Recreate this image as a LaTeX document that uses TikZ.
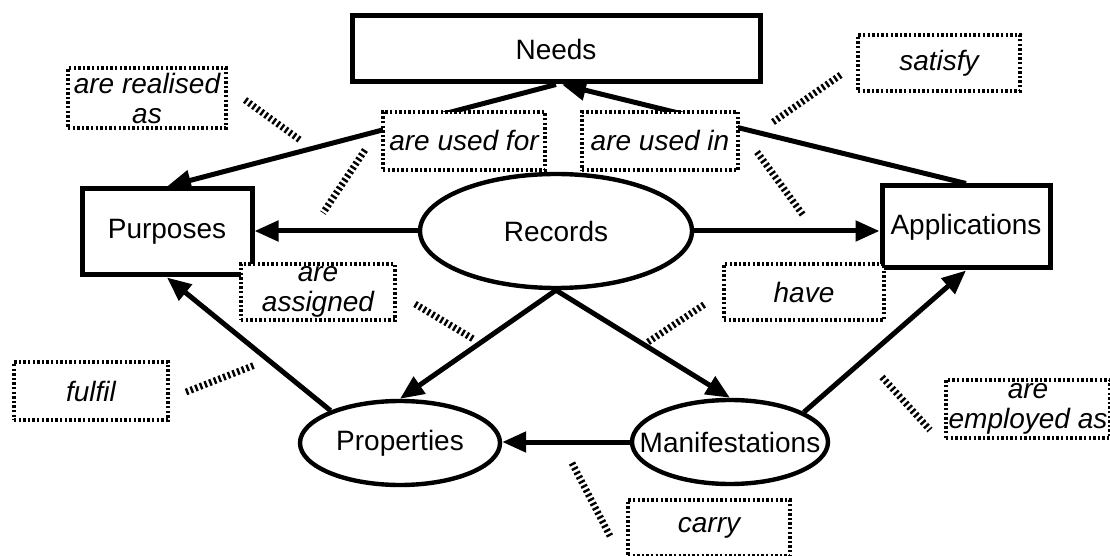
\documentclass[tikz,border=0pt]{standalone}
\usepackage{fontspec}
\setmainfont{Liberation Sans}
\usepackage{tikz}
\usetikzlibrary{shapes.geometric}
\usetikzlibrary{arrows.meta}
\newcommand{\entlinewd}{2.5pt}
\newcommand{\labelfont}{\fontsize{14}{15}\selectfont}
\tikzset{entbox/.style={rectangle, draw, line width=\entlinewd, fill=white, inner sep=0pt}}
\tikzset{entoval/.style={ellipse, draw, line width=2.2pt, fill=white, inner sep=0pt}}
\tikzset{relbox/.style={rectangle, draw, line width=2pt, dash pattern=on 1.2pt off 1.1pt, fill=white, inner sep=0pt, align=center, font=\labelfont\itshape}}
\tikzset{hatchln/.style={line width=3.4pt, dash pattern=on 1.2pt off 1.3pt}}
\tikzset{relarrow/.style={line width=\entlinewd, -{Triangle[length=12pt,width=10pt]}}}

\begin{document}
\begin{tikzpicture}[x=0.5pt,y=-0.5pt,font=\labelfont]

\useasboundingbox (0,0) rectangle (1110,556);

\node[entbox, minimum width=204pt, minimum height=33pt] (needs) at (556,49) {Needs};
\node[entbox, minimum width=85pt, minimum height=43pt] (purposes) at (167,232) {Purposes};
\node[entbox, minimum width=84pt, minimum height=41pt] (applications) at (966,227) {Applications};
\node[entoval, minimum width=136pt, minimum height=57pt] (records) at (556,231) {Records};
\node[entoval, minimum width=100pt, minimum height=42pt] (properties) at (400,443) {Properties};
\node[entoval, minimum width=98pt, minimum height=42pt, inner xsep=-11pt] (manifest) at (730,442) {Manifestations};

\draw[relarrow] (needs.south) -- (purposes.north);
\draw[relarrow] (applications.north) -- ([xshift=3pt]needs.south);
\draw[relarrow] (records.west) -- (records.west -| purposes.east);
\draw[relarrow] (records.east) -- (records.east -| applications.west);
\draw[relarrow] (records.south) -- (properties.north);
\draw[relarrow] (records.south) -- (manifest.north);
\draw[relarrow] (properties.155) -- (purposes.south);
\draw[relarrow] (manifest.west) -- (manifest.west -| properties.east);
\draw[relarrow] (manifest.22) -- (applications.south);

\node[relbox, minimum width=79pt, minimum height=30pt] (realised) at (147,98) {are realised\\as};
\node[relbox, minimum width=81pt, minimum height=28pt] (satisfy) at (939,63) {satisfy};
\node[relbox, minimum width=81pt, minimum height=29pt] (usedfor) at (464,141) {are used for};
\node[relbox, minimum width=78pt, minimum height=29pt] (usedin) at (660,141) {are used in};
\node[relbox, minimum width=77pt, minimum height=28pt] (assigned) at (318,292) {are\\assigned};
\node[relbox, minimum width=80pt, minimum height=28pt] (have) at (804,292) {have};
\node[relbox, minimum width=77pt, minimum height=29pt] (fulfil) at (91,391) {fulfil};
\node[relbox, minimum width=82pt, minimum height=29pt] (employed) at (1028,409) {are\\employed as};
\node[relbox, minimum width=81pt, minimum height=28pt] (carry) at (709,528) {carry};

\draw[hatchln] (245,100) -- (300,140);
\draw[hatchln] (365,150) -- (323,213);
\draw[hatchln] (773,122) -- (842,74);
\draw[hatchln] (757,152) -- (803,215);
\draw[hatchln] (415,304) -- (475,340);
\draw[hatchln] (648,342) -- (705,304);
\draw[hatchln] (186,392) -- (255,365);
\draw[hatchln] (882,377) -- (930,430);
\draw[hatchln] (572,463) -- (610,536);

\end{tikzpicture}
\end{document}
